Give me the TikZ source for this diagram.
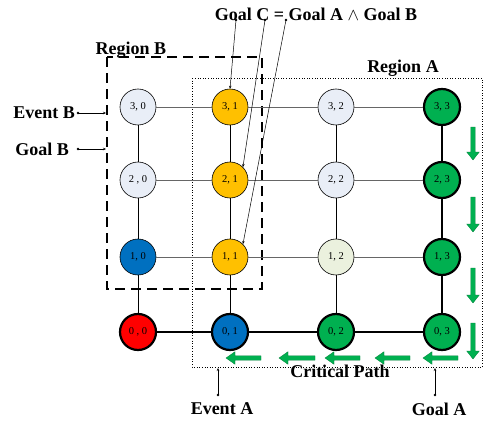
\documentclass[tikz,border=0pt]{standalone}
\usepackage{fontspec}
\setmainfont{Liberation Serif}
\usetikzlibrary{arrows.meta}
\definecolor{lgb}{HTML}{E9EEF7}
\definecolor{lgg}{HTML}{EBF1DE}
\definecolor{ylw}{HTML}{FFC000}
\definecolor{blu}{HTML}{0070C0}
\definecolor{grn}{HTML}{00B050}
\definecolor{gdk}{HTML}{00803A}
\newcommand\dnarr[3]{\draw[garrow] (#1-2.2,#2) -- (#1+2.2,#2) -- (#1+2.2,#3-8) -- (#1+6.3,#3-8) -- (#1,#3) -- (#1-6.3,#3-8) -- (#1-2.2,#3-8) -- cycle;}
\newcommand\lfarr[3]{\draw[garrow] (#2,#1-2.2) -- (#2,#1+2.2) -- (#3+9,#1+2.2) -- (#3+9,#1+6.3) -- (#3,#1) -- (#3+9,#1-6.3) -- (#3+9,#1-2.2) -- cycle;}
\begin{document}
\begin{tikzpicture}[x=1pt,y=-1pt,
  nd/.style={circle,draw=black,line width=0.6pt,minimum size=36pt,inner sep=0pt,font=\fontsize{10.5}{11}\selectfont},
  thk/.style={line width=2.2pt},
  lbl/.style={font=\fontsize{18}{20}\selectfont\bfseries,inner sep=0pt},
  garrow/.style={fill=grn,draw=gdk,line width=0.3pt},
  pt/.style={-{Stealth[length=3pt,width=2.5pt]},line width=0.5pt},
  dotc/.style={circle,fill=black,inner sep=0pt,minimum size=2.6pt}]
\useasboundingbox (0,0) rectangle (483,423);
% regions
\draw[dotted,line width=0.6pt] (192,78) rectangle (482,367);
\draw[line width=1.6pt,dash pattern=on 10pt off 6pt] (107,57) rectangle (262,289);
% nodes
\node[nd,fill=lgb] (n30) at (138,107) {3, 0};
\node[nd,fill=ylw] (n31) at (230,107) {3, 1};
\node[nd,fill=lgb] (n32) at (336,107) {3, 2};
\node[nd,fill=grn,thk] (n33) at (442,107) {3, 3};
\node[nd,fill=lgb] (n20) at (138,180) {2 , 0};
\node[nd,fill=ylw] (n21) at (230,180) {2, 1};
\node[nd,fill=lgb] (n22) at (336,180) {2, 2};
\node[nd,fill=grn,thk] (n23) at (442,180) {2, 3};
\node[nd,fill=blu] (n10) at (138,257) {1, 0};
\node[nd,fill=ylw] (n11) at (230,257) {1, 1};
\node[nd,fill=lgg] (n12) at (336,257) {1, 2};
\node[nd,fill=grn,thk] (n13) at (442,257) {1, 3};
\node[nd,fill=red,thk] (n00) at (138,332) {0 , 0};
\node[nd,fill=blu,thk] (n01) at (230,332) {0, 1};
\node[nd,fill=grn,thk] (n02) at (336,332) {0, 2};
\node[nd,fill=grn,thk] (n03) at (442,332) {0, 3};
% edges
\begin{scope}[line width=0.7pt]
\draw[gray!80!black] (n30) -- (n31) (n31) -- (n32) (n32) -- (n33);
\draw[gray!80!black] (n20) -- (n21) (n21) -- (n22) (n22) -- (n23);
\draw[gray!80!black] (n10) -- (n11) (n11) -- (n12) (n12) -- (n13);
\draw (n30) -- (n20) (n20) -- (n10) (n10) -- (n00);
\draw (n31) -- (n21) (n21) -- (n11) (n11) -- (n01);
\draw (n32) -- (n22) (n22) -- (n12) (n12) -- (n02);
\end{scope}
\draw[thk] (n00) -- (n01) (n01) -- (n02) (n02) -- (n03);
\draw[thk] (n33) -- (n23) (n23) -- (n13) (n13) -- (n03);
% labels
\node[lbl] (gc) at (316,14) {Goal C = Goal A $\wedge$ Goal B};
\node[lbl] (rb) at (131,50) {Region B};
\node[lbl] (ra) at (403,68) {Region A};
\node[lbl,anchor=east] (eb) at (75,113) {Event B};
\node[lbl,anchor=east] (gb) at (69,149) {Goal B};
\node[lbl] (ea) at (222,409) {Event A};
\node[lbl] (ga) at (439,409) {Goal A};
\node[lbl] (cp) at (340,371) {Critical Path};
% pointers
\node[dotc] (d1) at (236,20) {};
\node[dotc] (d2) at (265,20) {};
\node[dotc] (d3) at (286,20) {};
\draw[pt] (d1.center) -- (n31.north);
\draw[pt] (d2.center) -- (n21.north east);
\draw[pt] (d3.center) -- (n11.north east);
\node[dotc] (d4) at (78,113) {};
\coordinate (t4) at (106,113);
\draw[pt] (d4.center) -- (t4);
\node[dotc] (d5) at (78,149) {};
\coordinate (t5) at (106,149);
\draw[pt] (d5.center) -- (t5);
\node[dotc] (d6) at (218,395) {};
\coordinate (t6) at (218,368);
\draw[pt] (d6.center) -- (t6);
\node[dotc] (d7) at (435,395) {};
\coordinate (t7) at (435,368);
\draw[pt] (d7.center) -- (t7);
% green arrows
\dnarr{473}{127}{160}
\dnarr{473}{197}{232}
\dnarr{473}{268}{303}
\dnarr{473}{323}{359}
\lfarr{358}{458}{423}
\lfarr{358}{410}{375}
\lfarr{358}{360}{325}
\lfarr{358}{315}{279}
\lfarr{358}{261}{226}
\end{tikzpicture}
\end{document}
